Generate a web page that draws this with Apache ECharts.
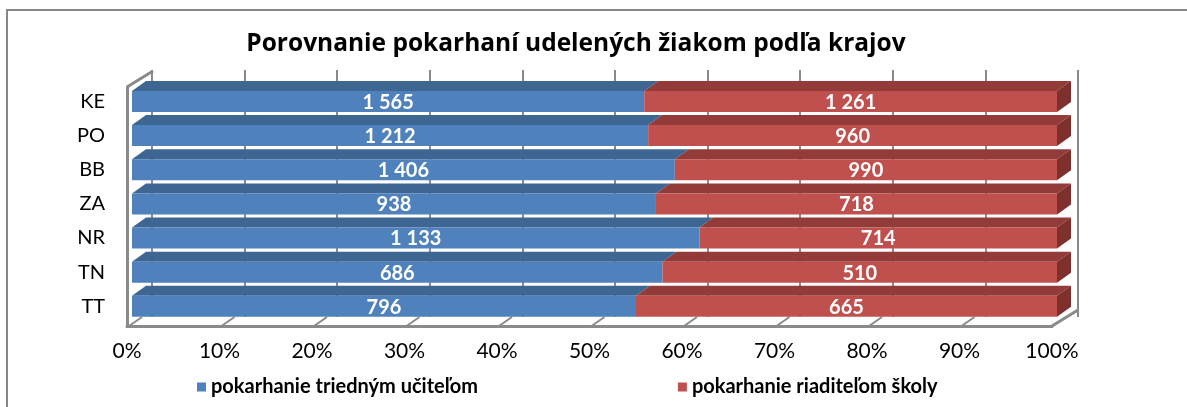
<!DOCTYPE html>
<html>
<head>
<meta charset="utf-8">
<script src="https://cdn.jsdelivr.net/npm/echarts@6/dist/echarts.min.js"></script>
<style>
  html, body { margin: 0; padding: 0; background: #fff; }
  #main { width: 1187px; height: 407px; }
</style>
</head>
<body>
<div id="main"></div>
<script>
// kraje zhora nadol
var regions = ['KE', 'PO', 'BB', 'ZA', 'NR', 'TN', 'TT'];
var teacherCounts = [1565, 1212, 1406, 938, 1133, 686, 796];
var directorCounts = [1261, 960, 990, 718, 714, 510, 665];
var percentTicks = [0, 10, 20, 30, 40, 50, 60, 70, 80, 90, 100];

var FONT = 'Lato';
var BAR_H = 21, DX = 14, DY = 10;

function fmt(v) {
  return String(v).replace(/\B(?=(\d{3})+(?!\d))/g, ' ');
}

// podiel v % (100% skladany stlpec)
var teacherData = [], directorData = [];
regions.forEach(function (r, i) {
  var total = teacherCounts[i] + directorCounts[i];
  var p = teacherCounts[i] / total * 100;
  teacherData.push([0, p, i, teacherCounts[i]]);
  directorData.push([p, 100, i, directorCounts[i]]);
});

function barRenderer(front, top, side, last) {
  return function (params, api) {
    var s = api.coord([api.value(0), api.value(2)]);
    var e = api.coord([api.value(1), api.value(2)]);
    var y0 = s[1] - BAR_H / 2;
    var kids = [
      { type: 'polygon', shape: { points: [[s[0], y0], [e[0], y0], [e[0] + DX, y0 - DY], [s[0] + DX, y0 - DY]] }, style: { fill: top } },
      { type: 'rect', shape: { x: s[0], y: y0, width: e[0] - s[0], height: BAR_H }, style: { fill: front } }
    ];
    if (last) {
      kids.push({ type: 'polygon', shape: { points: [[e[0], y0], [e[0] + DX, y0 - DY], [e[0] + DX, y0 - DY + BAR_H], [e[0], y0 + BAR_H]] }, style: { fill: side } });
    }
    kids.push({
      type: 'text',
      style: {
        text: fmt(api.value(3)), x: (s[0] + e[0]) / 2, y: s[1] + 1,
        align: 'center', verticalAlign: 'middle',
        fill: '#fff', font: 'bold 20px ' + FONT
      }
    });
    return { type: 'group', children: kids };
  };
}

var myChart = echarts.init(document.getElementById('main'));
var option = {
  animation: false,
  backgroundColor: '#fff',
  textStyle: { fontFamily: FONT },
  title: {
    text: 'Porovnanie pokarhaní udelených žiakom podľa krajov',
    left: 571, top: 27, textAlign: 'center',
    textStyle: { fontFamily: 'Open Sans', fontWeight: 'bold', fontSize: 24.5, color: '#000' }
  },
  legend: {
    left: 192, top: 372, itemGap: 200,
    icon: 'rect', itemWidth: 9, itemHeight: 9,
    textStyle: { fontFamily: FONT, fontWeight: 'bold', fontSize: 20, color: '#000', padding: [0, 0, 0, 0] },
    data: ['pokarhanie triedným učiteľom', 'pokarhanie riaditeľom školy']
  },
  graphic: [{
    type: 'polyline', silent: true,
    shape: { points: [[7, 407], [7, 10], [1187, 10]] },
    style: { stroke: '#878787', lineWidth: 2, fill: null }
  }],
  grid: [
    { left: 132, right: 130, top: 84.4, height: 239 },   // pruhy
    { left: 152, right: 109, top: 70, bottom: 90 },      // zadna stena
    { left: 127, right: 135, top: 87, bottom: 81 }       // podlaha + popisky
  ],
  xAxis: [
    { gridIndex: 0, type: 'value', min: 0, max: 100, show: false },
    { gridIndex: 1, type: 'value', min: 0, max: 100, interval: 10,
      axisLine: { show: false }, axisTick: { show: false }, axisLabel: { show: false },
      splitLine: { show: true, lineStyle: { color: '#8a8a8a', width: 2 } } },
    { gridIndex: 2, type: 'value', min: 0, max: 100, interval: 10,
      axisLine: { show: true, lineStyle: { color: '#8a8a8a', width: 3 } },
      axisTick: { show: false }, splitLine: { show: false },
      axisLabel: { formatter: '{value}%', fontFamily: FONT, fontSize: 21, color: '#000', margin: 15 } }
  ],
  yAxis: [
    { gridIndex: 0, type: 'category', data: regions, inverse: true,
      axisLine: { show: false }, axisTick: { show: false },
      axisLabel: { fontFamily: FONT, fontSize: 20, color: '#000', margin: 27 } },
    { gridIndex: 1, type: 'value', show: false, min: 0, max: 1 },
    { gridIndex: 2, type: 'value', min: 0, max: 1,
      axisLine: { show: true, lineStyle: { color: '#8a8a8a', width: 3 } },
      axisTick: { show: false }, axisLabel: { show: false }, splitLine: { show: false } }
  ],
  series: [
    {
      type: 'custom', name: 'frame', xAxisIndex: 2, yAxisIndex: 2, silent: true, z: 1,
      data: percentTicks.map(function (v) { return [v]; }),
      encode: { x: 0 },
      renderItem: function (params, api) {
        var v = api.value(0);
        var p = api.coord([v, 0]);
        var kids = [];
        var st = { stroke: '#8a8a8a', lineWidth: 2 };
        if (v === 100) {
          kids.push({ type: 'line', shape: { x1: p[0], y1: p[1], x2: p[0] + 26, y2: p[1] - 16 }, style: { stroke: '#8a8a8a', lineWidth: 3 } });
        } else {
          kids.push({ type: 'line', shape: { x1: p[0] + 2, y1: p[1], x2: p[0] + 15, y2: p[1] - 9 }, style: st });
        }
        if (v === 0) {
          var t = api.coord([0, 1]);
          kids.push({ type: 'line', shape: { x1: t[0], y1: t[1], x2: t[0] + 26, y2: t[1] - 16 }, style: { stroke: '#8a8a8a', lineWidth: 3 } });
        }
        return { type: 'group', children: kids };
      }
    },
    {
      type: 'custom', name: 'pokarhanie triedným učiteľom', xAxisIndex: 0, yAxisIndex: 0, z: 3,
      itemStyle: { color: '#4F81BD' },
      data: teacherData, encode: { x: [0, 1], y: 2 },
      renderItem: barRenderer('#4F81BD', '#3E6693', '#34567c', false)
    },
    {
      type: 'custom', name: 'pokarhanie riaditeľom školy', xAxisIndex: 0, yAxisIndex: 0, z: 3,
      itemStyle: { color: '#C0504D' },
      data: directorData, encode: { x: [0, 1], y: 2 },
      renderItem: barRenderer('#C0504D', '#923B39', '#7E302E', true)
    }
  ]
};
myChart.setOption(option);
</script>
</body>
</html>
